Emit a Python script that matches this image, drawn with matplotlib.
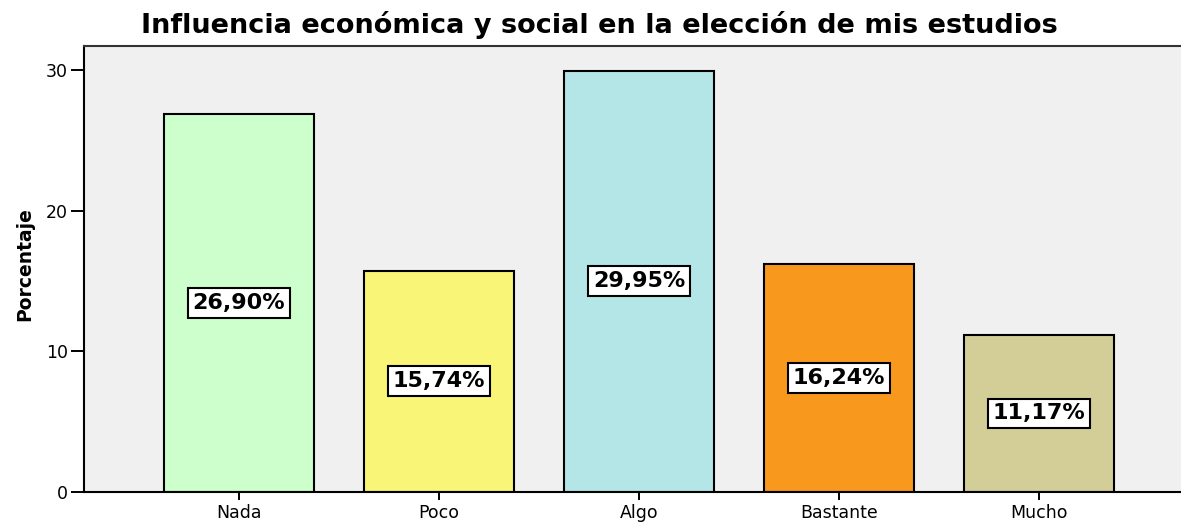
import matplotlib.pyplot as plt
import numpy as np

# Datos del gráfico
categorias = ['Nada', 'Poco', 'Algo', 'Bastante', 'Mucho']
porcentajes = [26.90, 15.74, 29.95, 16.24, 11.17]
colores = ['#CCFFCC', '#F9F576', '#B5E6E7', '#F8991E', '#D3CD98']
titulo = 'Influencia económica y social en la elección de mis estudios'

fig = plt.figure(figsize=(11.81, 5.22), dpi=100)
ax = fig.add_axes([84 / 1181, 30 / 522, 1 - 84 / 1181, 446 / 522])
ax.set_facecolor('#F0F0F0')

x = np.arange(len(categorias))
ax.bar(x, porcentajes, width=0.75, color=colores, edgecolor='black',
       linewidth=1.5, zorder=2)

# Etiquetas de porcentaje en el centro de cada barra
for xi, v in zip(x, porcentajes):
    ax.text(xi, v / 2, f'{v:.2f}%'.replace('.', ','), ha='center', va='center',
            fontsize=16, fontweight='bold', zorder=3,
            bbox=dict(boxstyle='square,pad=0.22', facecolor='white',
                      edgecolor='black', linewidth=1.5))

ax.set_xlim(-0.775, 4.71)
ax.set_ylim(0, 31.7)
ax.set_xticks(x)
ax.set_xticklabels(categorias, fontsize=12.5)
ax.set_yticks([0, 10, 20, 30])
ax.tick_params(axis='y', length=9.5, width=1.4, pad=2, labelsize=12.5)
ax.tick_params(axis='x', length=6, width=1.4, pad=3, labelsize=12.5)

for s in ['left', 'bottom']:
    ax.spines[s].set_linewidth(1.5)
    ax.spines[s].set_color('black')
ax.spines['top'].set_linewidth(1.5)
ax.spines['top'].set_color('#333333')
ax.spines['right'].set_visible(False)

fig.text(25 / 1181, 0.5 + (269 - 272) / 522, 'Porcentaje', rotation=90,
         ha='center', va='center', fontsize=13.5, fontweight='bold')
fig.text(599 / 1181, 1 - 33 / 522, titulo, ha='center', va='baseline',
         fontsize=19.5, fontweight='bold')

fig.savefig('out.png', dpi=100)
